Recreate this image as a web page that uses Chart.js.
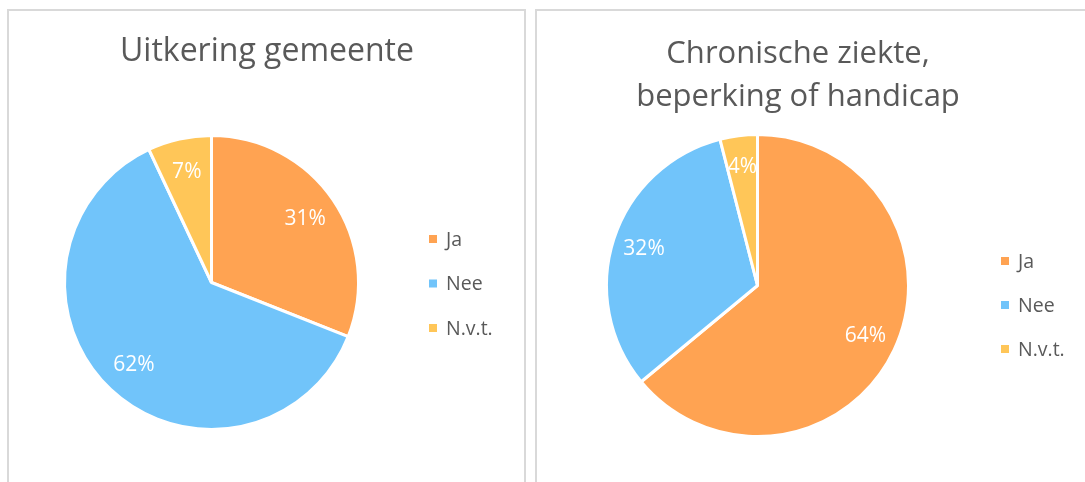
<!DOCTYPE html>
<html>
<head>
<meta charset="utf-8">
<script src="https://cdn.jsdelivr.net/npm/chart.js@4/dist/chart.umd.min.js"></script>
<style>
    body { margin: 0; background: #fff; width: 1085px; height: 482px; overflow: hidden; position: relative; }
    .panel { position: absolute; border: 2px solid #d9d9d9; box-sizing: border-box; background: #fff; }
    #panelLeft { left: 7px; top: 9px; width: 519px; height: 490px; }
    #panelRight { left: 535px; top: 9px; width: 570px; height: 490px; }
    canvas { position: absolute; left: 0; top: 0; }
</style>
</head>
<body>
<div class="panel" id="panelLeft"><canvas id="uitkeringChart"></canvas></div>
<div class="panel" id="panelRight"><canvas id="ziekteChart"></canvas></div>
<script>
// Data
const categories = ['Ja', 'Nee', 'N.v.t.'];
const uitkeringValues = [31, 62, 7];
const ziekteValues = [64, 32, 4];
const uitkeringTitle = ['Uitkering gemeente'];
const ziekteTitle = ['Chronische ziekte,', 'beperking of handicap'];

const sliceColors = ['#ffa352', '#71c4fa', '#ffc658'];
const textColor = '#595959';
const fontFamily = '"Open Sans", "Noto Sans", sans-serif';

// Draws title, legend and percentage labels on the canvas
const pieTextPlugin = {
    id: 'pieText',
    afterDraw(chart, args, opts) {
        const ctx = chart.ctx;
        ctx.save();

        // title
        ctx.fillStyle = textColor;
        ctx.font = opts.titleSize + 'px ' + fontFamily;
        ctx.textAlign = 'center';
        ctx.textBaseline = 'alphabetic';
        opts.title.forEach((line, i) => {
            ctx.fillText(line, opts.titleX, opts.titleY + i * opts.titleLineHeight);
        });

        // percentage labels
        const meta = chart.getDatasetMeta(0);
        const values = chart.data.datasets[0].data;
        ctx.fillStyle = '#ffffff';
        ctx.font = '21px ' + fontFamily;
        ctx.textBaseline = 'middle';
        meta.data.forEach((arc, i) => {
            const p = arc.getProps(['x', 'y', 'startAngle', 'endAngle', 'outerRadius'], true);
            const mid = (p.startAngle + p.endAngle) / 2;
            const r = p.outerRadius * opts.labelRatio;
            ctx.fillText(values[i] + '%', p.x + Math.cos(mid) * r, p.y + Math.sin(mid) * r);
        });

        // legend
        ctx.font = '19.5px ' + fontFamily;
        ctx.textAlign = 'left';
        chart.data.labels.forEach((label, i) => {
            const y = opts.legendY + i * opts.legendGap;
            ctx.fillStyle = sliceColors[i];
            ctx.fillRect(opts.legendX, y - 4, 8, 8);
            ctx.fillStyle = textColor;
            ctx.fillText(label, opts.legendX + 17, y + 1);
        });

        ctx.restore();
    }
};

function makePie(id, values, width, height, padding, textOpts) {
    const canvas = document.getElementById(id);
    canvas.width = width;
    canvas.height = height;
    return new Chart(canvas.getContext('2d'), {
        type: 'pie',
        data: {
            labels: categories,
            datasets: [{
                data: values,
                backgroundColor: sliceColors,
                borderColor: '#ffffff',
                borderWidth: 3
            }]
        },
        options: {
            responsive: false,
            animation: false,
            layout: { padding: padding },
            plugins: {
                legend: { display: false },
                tooltip: { enabled: false },
                pieText: textOpts
            }
        },
        plugins: [pieTextPlugin]
    });
}

let charts = {};

charts.uitkering = makePie('uitkeringChart', uitkeringValues, 515, 471,
    { left: 54, right: 164, top: 123, bottom: 51 },
    {
        title: uitkeringTitle, titleSize: 32, titleX: 258, titleY: 50, titleLineHeight: 44,
        labelRatio: 0.77,
        legendX: 420, legendY: 228, legendGap: 44.5
    });

charts.ziekte = makePie('ziekteChart', ziekteValues, 548, 471,
    { left: 68, right: 175, top: 122, bottom: 44 },
    {
        title: ziekteTitle, titleSize: 31, titleX: 261, titleY: 52, titleLineHeight: 43,
        labelRatio: 0.79,
        legendX: 464, legendY: 250, legendGap: 44
    });
</script>
</body>
</html>
